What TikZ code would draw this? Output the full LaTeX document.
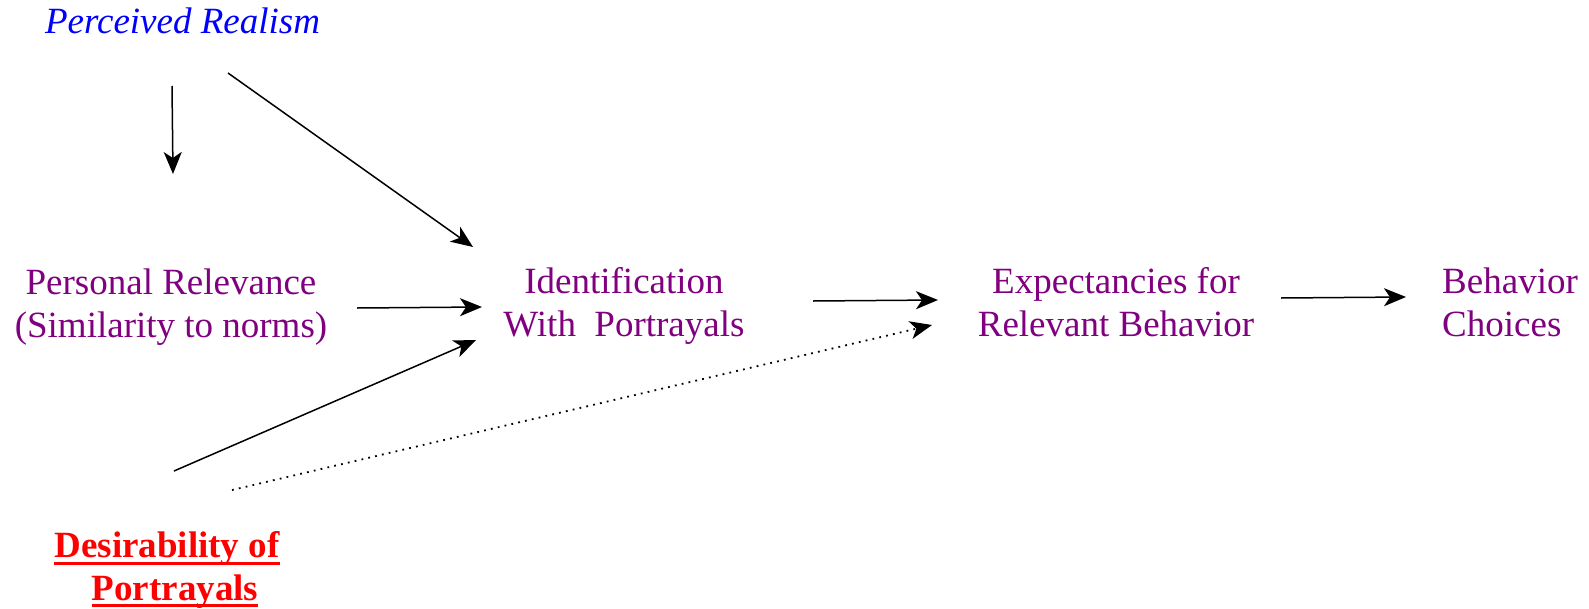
\documentclass[tikz,border=0pt]{standalone}
\usepackage{fontspec}
\setmainfont{LiberationSerif}[Extension=.ttf, UprightFont=*-Regular, BoldFont=*-Bold, ItalicFont=*-Italic, BoldItalicFont=*-BoldItalic]
\usetikzlibrary{arrows.meta}
\definecolor{lblpurple}{RGB}{128,0,128}
\definecolor{lblblue}{RGB}{0,0,255}
\definecolor{lblred}{RGB}{255,0,0}
\newcommand{\thickul}[1]{\setbox0\hbox{#1}\rlap{\raisebox{-7pt}{\rule{\wd0}{3pt}}}\box0}
\tikzset{
  lbl/.style={inner sep=0pt, font=\rmfamily\fontsize{37}{42.5}\selectfont, align=center, anchor=base},
  conn/.style={line width=1.5pt, -{Stealth[length=22pt,width=18pt,inset=6pt]}},
  dotconn/.style={line width=1.8pt, dash pattern=on 1.8pt off 5.2pt, -{Stealth[length=22pt,width=18pt,inset=6pt]}}
}
\begin{document}
\begin{tikzpicture}[x=1pt,y=-1pt]
\useasboundingbox (0,0) rectangle (1589,608);
\node[lbl, text=lblblue, font=\rmfamily\fontsize{37}{42.5}\selectfont\itshape] (pr) at (182.5,33) {Perceived Realism};
\node[lbl, text=lblpurple] (rel) at (171,337) {Personal Relevance\\(Similarity to norms)};
\node[lbl, text=lblpurple] (idf) at (624,336) {Identification\\With\ \ Portrayals};
\node[lbl, text=lblpurple] (exp) at (1116,336) {Expectancies for\\Relevant Behavior};
\node[lbl, text=lblpurple, align=left, anchor=base west] (beh) at (1442,336) {Behavior\\Choices};
\node[lbl, text=lblred, font=\rmfamily\fontsize{37}{42.5}\selectfont\bfseries] (des) at (167,600) {\thickul{Desirability of}\\\hspace{16pt}\thickul{Portrayals}};

\coordinate (pr1) at (172,86);
\coordinate (rel1) at (173,174);
\coordinate (pr2) at (228,73);
\coordinate (idf1) at (473,247);
\coordinate (rel2) at (357,308);
\coordinate (idf2) at (482,307);
\coordinate (des1) at (174,471);
\coordinate (idf3) at (476,340);
\coordinate (des2) at (232,490);
\coordinate (exp1) at (932,325);
\coordinate (idf4) at (813,301);
\coordinate (exp2) at (938,300);
\coordinate (exp3) at (1281,298);
\coordinate (beh1) at (1406,297);

\draw[conn] (pr1) -- (rel1);
\draw[conn] (pr2) -- (idf1);
\draw[conn] (rel2) -- (idf2);
\draw[conn] (des1) -- (idf3);
\draw[dotconn] (des2) -- (exp1);
\draw[conn] (idf4) -- (exp2);
\draw[conn] (exp3) -- (beh1);
\end{tikzpicture}
\end{document}
